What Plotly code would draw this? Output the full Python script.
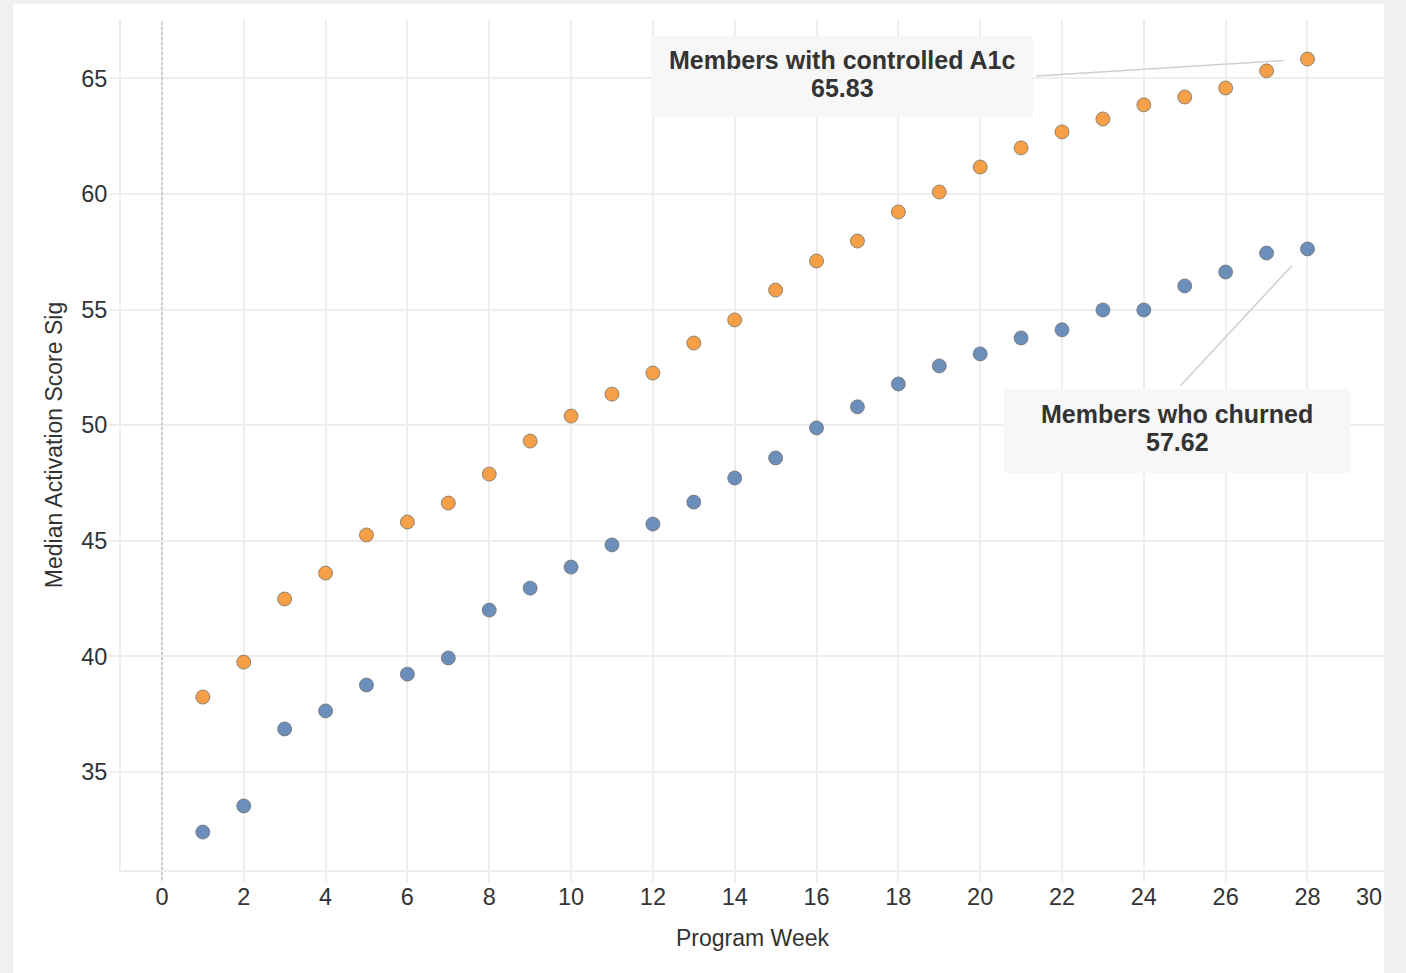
import plotly.graph_objects as go

# Median activation score by program week, per member cohort
weeks = list(range(1, 29))
controlled_a1c = [38.24, 39.75, 42.48, 43.60, 45.25, 45.81, 46.63, 47.88, 49.31, 50.39,
                  51.34, 52.25, 53.55, 54.55, 55.84, 57.10, 57.96, 59.22, 60.08, 61.16,
                  61.99, 62.68, 63.24, 63.85, 64.19, 64.58, 65.32, 65.83]
churned = [32.40, 33.53, 36.86, 37.64, 38.76, 39.23, 39.93, 42.00, 42.95, 43.86,
           44.82, 45.72, 46.67, 47.71, 48.58, 49.88, 50.79, 51.78, 52.56, 53.08,
           53.77, 54.12, 54.98, 54.98, 56.02, 56.62, 57.44, 57.62]

series_names = ["Members with controlled A1c", "Members who churned"]
x_ticks = list(range(0, 29, 2))
y_ticks = [35, 40, 45, 50, 55, 60, 65]

ORANGE = "#F5A046"
BLUE = "#6C8EBA"
GRID = "#EEEEEE"
TEXT = "#333333"
FONT = "Liberation Sans, Arial, sans-serif"

W, H = 1406, 973
ML, MR, MT, MB = 121, 22, 20, 103
PW, PH = W - ML - MR, H - MT - MB


def px(x):
    return (x - ML) / PW


def py(y):
    return (H - MB - y) / PH


fig = go.Figure()
for name, vals, color in [(series_names[0], controlled_a1c, ORANGE),
                          (series_names[1], churned, BLUE)]:
    fig.add_trace(go.Scatter(
        x=weeks, y=vals, mode="markers", name=name,
        marker=dict(size=14, color=color,
                    line=dict(color="rgba(110,110,110,0.75)", width=1)),
    ))

shapes = [
    # white card behind the chart
    dict(type="rect", xref="paper", yref="paper", layer="below",
         x0=px(13), x1=px(1384), y0=py(1100), y1=py(4),
         fillcolor="white", line=dict(width=0)),
    # dashed reference line at week 0
    dict(type="line", xref="x", yref="paper", x0=0, x1=0, y0=py(880), y1=1,
         line=dict(color="#B8B8B8", width=1.2, dash="3px,2px")),
    # callout boxes
    dict(type="rect", xref="paper", yref="paper", layer="above",
         x0=px(651), x1=px(1033), y0=py(117), y1=py(36),
         fillcolor="#F7F7F7", line=dict(width=0)),
    dict(type="rect", xref="paper", yref="paper", layer="above",
         x0=px(1004), x1=px(1350), y0=py(473), y1=py(389),
         fillcolor="#F7F7F7", line=dict(width=0)),
]

annotations = []
# leader lines from the callouts to the final points
annotations.append(dict(x=weeks[-1], y=controlled_a1c[-1], xref="x", yref="y",
                        text=" ", showarrow=True, arrowhead=0, arrowwidth=1.5,
                        arrowcolor="#CFCFCF", ax=-274, ay=17, standoff=24))
annotations.append(dict(x=weeks[-1], y=churned[-1], xref="x", yref="y",
                        text=" ", showarrow=True, arrowhead=0, arrowwidth=1.5,
                        arrowcolor="#CFCFCF", ax=-130, ay=140, standoff=23))

callouts = [
    (series_names[0], controlled_a1c[-1], 842, 60, 88),
    (series_names[1], churned[-1], 1177, 414, 442),
]
for name, val, cx, y1, y2 in callouts:
    for txt, yy in [(name, y1), (f"{val:.2f}", y2)]:
        annotations.append(dict(
            x=px(cx), y=py(yy), xref="paper", yref="paper", text=f"<b>{txt}</b>",
            showarrow=False, xanchor="center", yanchor="middle",
            font=dict(family=FONT, size=25, color=TEXT)))

# last tick label sits at the right edge of the axis
annotations.append(dict(x=px(1384), y=py(897), xref="paper", yref="paper",
                        text="30", showarrow=False, xanchor="right", yanchor="middle",
                        font=dict(family=FONT, size=23.5, color=TEXT)))

fig.update_layout(
    width=W, height=H,
    margin=dict(l=ML, r=MR, t=MT, b=MB, pad=0),
    paper_bgcolor="#F0F0F0",
    plot_bgcolor="white",
    showlegend=False,
    font=dict(family=FONT, color=TEXT),
    shapes=shapes,
    annotations=annotations,
)

fig.update_xaxes(
    range=[-1, 29.87], tickvals=x_ticks, ticktext=[str(t) for t in x_ticks],
    showgrid=True, gridcolor=GRID, gridwidth=2, zeroline=False,
    showline=True, linecolor=GRID, linewidth=2,
    ticks="outside", ticklen=10, tickwidth=2, tickcolor=GRID,
    ticklabelstandoff=-5,
    tickfont=dict(family=FONT, size=23.5, color=TEXT),
    title=dict(text="Program Week", font=dict(family=FONT, size=23, color=TEXT),
               standoff=21),
)
fig.update_yaxes(
    range=[30.76, 67.52], tickvals=y_ticks,
    showgrid=True, gridcolor=GRID, gridwidth=2, zeroline=False,
    showline=True, linecolor=GRID, linewidth=2,
    ticks="outside", ticklen=10, tickwidth=2, tickcolor=GRID,
    ticklabelstandoff=-3,
    tickfont=dict(family=FONT, size=23.5, color=TEXT),
    title=dict(text="Median Activation Score Sig",
               font=dict(family=FONT, size=23, color=TEXT), standoff=12),
)

fig.write_html("out.html")
